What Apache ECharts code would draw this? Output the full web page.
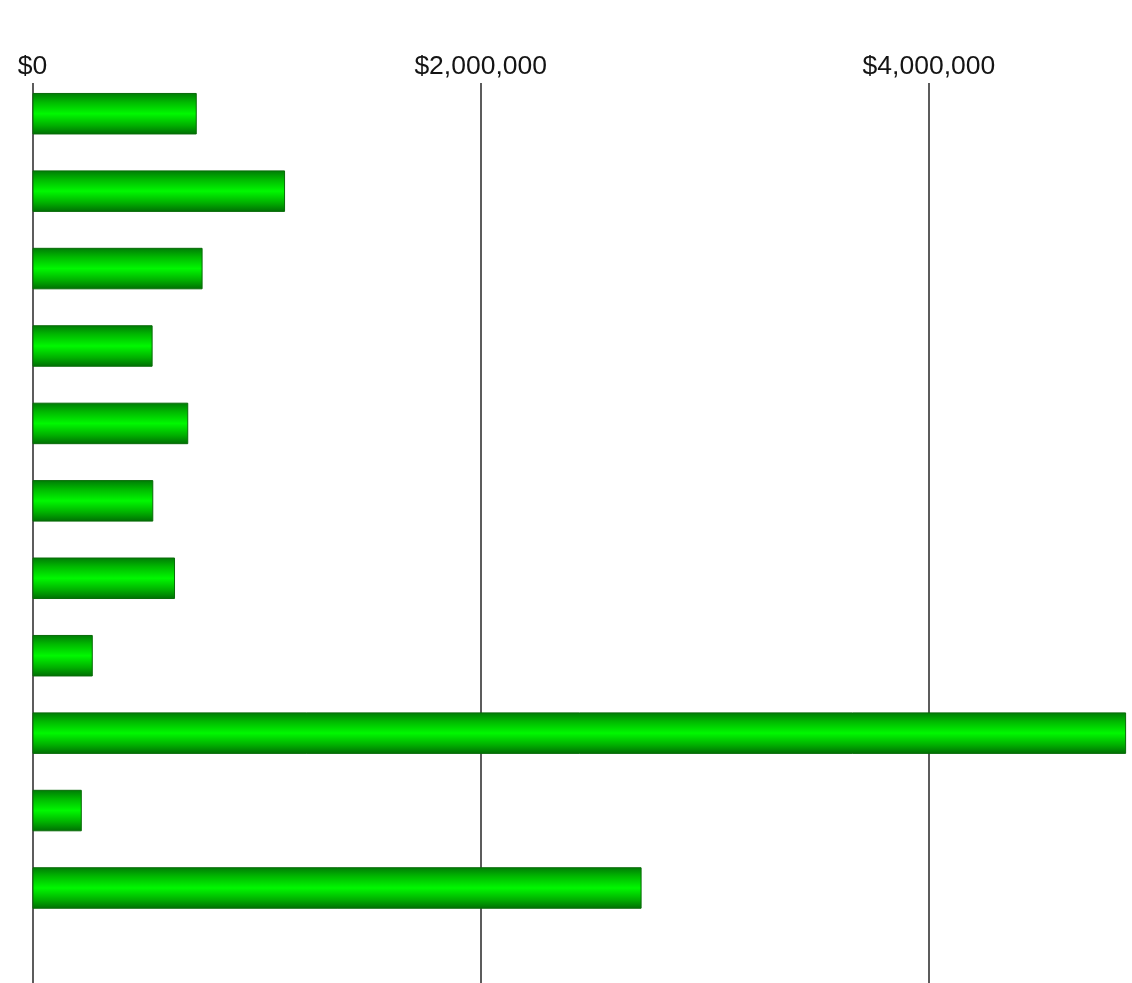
<!DOCTYPE html>
<html>
<head>
<meta charset="utf-8">
<script src="https://cdn.jsdelivr.net/npm/echarts@6/dist/echarts.min.js"></script>
<style>
  html, body { margin: 0; padding: 0; background: #ffffff; }
  #chart { width: 1132px; height: 983px; }
</style>
</head>
<body>
<div id="chart"></div>
<script>
// Horizontal bar values, top to bottom (US dollars)
const categories = ['1', '2', '3', '4', '5', '6', '7', '8', '9', '10', '11'];
const amounts = [733000, 1127000, 759000, 536000, 695000, 539000, 636000, 269000, 4880000, 220000, 2718000];

// Value axis: ticks every $2,000,000
const axisMin = 0;
const axisMax = 5000000;
const axisStep = 2000000;

const fmtDollar = v => '$' + Math.round(v).toLocaleString('en-US');

const chart = echarts.init(document.getElementById('chart'), null, { renderer: 'canvas' });

const barFill = new echarts.graphic.LinearGradient(0, 0, 0, 1, [
  { offset: 0, color: '#007a06' },
  { offset: 0.22, color: '#00b800' },
  { offset: 0.5, color: '#00f800' },
  { offset: 0.78, color: '#00b000' },
  { offset: 1, color: '#006d04' }
]);

chart.setOption({
  animation: false,
  backgroundColor: '#ffffff',
  grid: [
    // grid carrying the top tick labels and vertical gridlines
    { left: 32.5, width: 1120.5, top: 83, bottom: 0, outerBoundsMode: 'none', containLabel: false },
    // grid carrying the bars
    { left: 32.5, width: 1120.5, top: 75, height: 851.7, outerBoundsMode: 'none', containLabel: false }
  ],
  xAxis: [
    {
      gridIndex: 0,
      type: 'value',
      position: 'top',
      min: axisMin,
      max: axisMax,
      interval: axisStep,
      axisLine: { show: false },
      axisTick: { show: false },
      axisLabel: {
        show: true,
        showMaxLabel: false,
        margin: 3,
        formatter: fmtDollar,
        color: '#141414',
        fontFamily: 'Liberation Sans, Arial, sans-serif',
        fontSize: 26.5
      },
      splitLine: { show: true, lineStyle: { color: '#5c5c5c', width: 2 } }
    },
    {
      gridIndex: 1,
      type: 'value',
      min: axisMin,
      max: axisMax,
      interval: axisStep,
      show: false
    }
  ],
  yAxis: [
    { gridIndex: 0, type: 'value', show: false },
    {
      gridIndex: 1,
      type: 'category',
      data: categories,
      inverse: true,
      show: false
    }
  ],
  series: [
    {
      type: 'bar',
      xAxisIndex: 1,
      yAxisIndex: 1,
      data: amounts,
      barWidth: 41.5,
      itemStyle: {
        color: barFill,
        borderColor: '#086b08',
        borderWidth: 1
      }
    }
  ]
});
</script>
</body>
</html>
